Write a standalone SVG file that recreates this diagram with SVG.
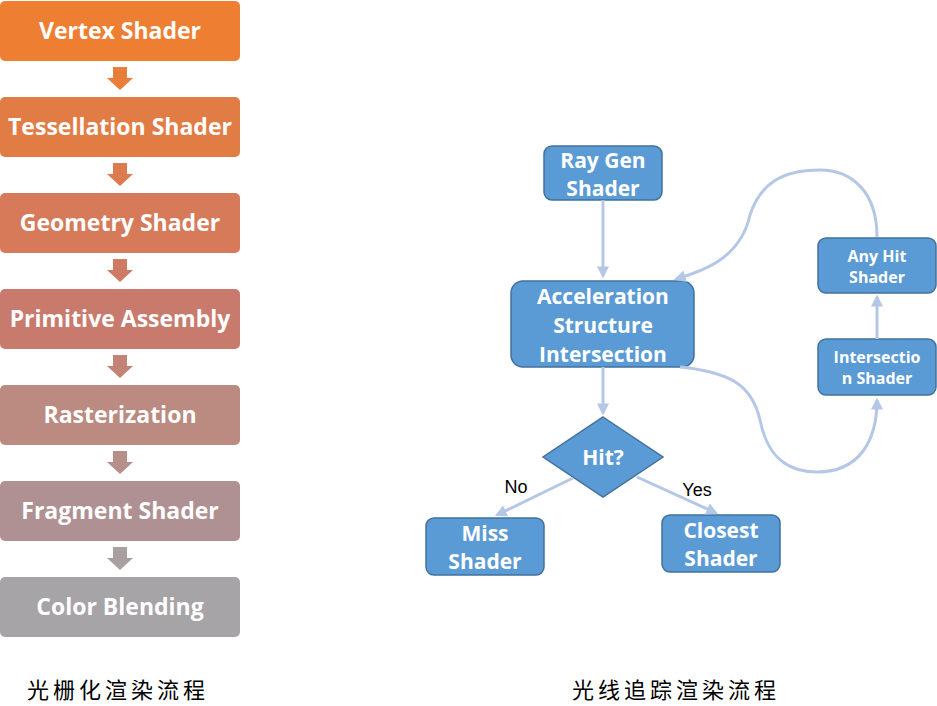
<svg xmlns="http://www.w3.org/2000/svg" width="937" height="706" viewBox="0 0 937 706">
<defs>
<style>
.lt{font-family:"Open Sans","Noto Sans","DejaVu Sans",sans-serif;font-weight:bold;font-size:23px;fill:#fff;text-anchor:middle;dominant-baseline:central}
.rt{font-family:"Open Sans","Noto Sans","DejaVu Sans",sans-serif;font-weight:bold;font-size:21px;fill:#fff;text-anchor:middle;dominant-baseline:central}
.st{font-family:"Open Sans","Noto Sans","DejaVu Sans",sans-serif;font-weight:bold;font-size:16px;fill:#fff;text-anchor:middle;dominant-baseline:central}
.lbl{font-family:"Liberation Sans","Noto Sans",sans-serif;font-size:18px;fill:#000;text-anchor:middle;dominant-baseline:central}
.cap{font-family:"Noto Sans CJK SC",sans-serif;font-size:22px;fill:#000;letter-spacing:4px;dominant-baseline:central}
.bn{fill:#5B9BD5;stroke:#41719C;stroke-width:1.5}
.cn{fill:none;stroke:#B4C7E7;stroke-width:3}
</style>
<marker id="ah" viewBox="0 0 10 10" refX="8" refY="5" markerWidth="4" markerHeight="4" orient="auto" markerUnits="strokeWidth">
<path d="M0,0 L10,5 L0,10 Z" fill="#B4C7E7"/>
</marker>
</defs>
<rect width="937" height="706" fill="#fff"/>

<g id="vertex"><rect x="0" y="1" width="240" height="60" rx="5" fill="#EE7E32"/><text class="lt" x="120" y="30">Vertex Shader</text></g>
<g id="tess"><rect x="0" y="97" width="240" height="60" rx="5" fill="#E27C45"/><text class="lt" x="120" y="126">Tessellation Shader</text></g>
<g id="geom"><rect x="0" y="193" width="240" height="60" rx="5" fill="#D67A5A"/><text class="lt" x="120" y="222">Geometry Shader</text></g>
<g id="prim"><rect x="0" y="289" width="240" height="60" rx="5" fill="#C87B6C"/><text class="lt" x="120" y="318">Primitive Assembly</text></g>
<g id="rast"><rect x="0" y="385" width="240" height="60" rx="5" fill="#BB8A80"/><text class="lt" x="120" y="414">Rasterization</text></g>
<g id="frag"><rect x="0" y="481" width="240" height="60" rx="5" fill="#AF9193"/><text class="lt" x="120" y="510">Fragment Shader</text></g>
<g id="blend"><rect x="0" y="577" width="240" height="60" rx="5" fill="#A6A4A7"/><text class="lt" x="120" y="606">Color Blending</text></g>

<g id="left-arrows">
<path d="M113,67 H127 V78 H133 L120,90 L107,78 H113 Z" fill="#E97D3A"/>
<path d="M113,163 H127 V174 H133 L120,186 L107,174 H113 Z" fill="#DC7B4F"/>
<path d="M113,259 H127 V270 H133 L120,282 L107,270 H113 Z" fill="#CF7A63"/>
<path d="M113,355 H127 V366 H133 L120,378 L107,366 H113 Z" fill="#C38377"/>
<path d="M113,451 H127 V462 H133 L120,474 L107,462 H113 Z" fill="#B68E8A"/>
<path d="M113,547 H127 V558 H133 L120,570 L107,558 H113 Z" fill="#A9A0A2"/>
</g>

<g id="raygen"><rect class="bn" x="544" y="146" width="118" height="54" rx="8"/><text class="rt" x="603" y="160">Ray Gen</text><text class="rt" x="603" y="188">Shader</text></g>
<g id="accel"><rect class="bn" x="511" y="281" width="183" height="86" rx="12"/><text class="rt" x="603" y="296">Acceleration</text><text class="rt" x="603" y="325">Structure</text><text class="rt" x="603" y="354">Intersection</text></g>
<g id="hit"><path class="bn" d="M603,417 L663,457 L603,497 L543,457 Z"/><text class="rt" x="603" y="457">Hit?</text></g>
<g id="miss"><rect class="bn" x="426" y="518" width="118" height="57" rx="8"/><text class="rt" x="485" y="533">Miss</text><text class="rt" x="485" y="561">Shader</text></g>
<g id="closest"><rect class="bn" x="662" y="515" width="118" height="57" rx="8"/><text class="rt" x="721" y="530">Closest</text><text class="rt" x="721" y="558">Shader</text></g>
<g id="anyhit"><rect class="bn" x="818" y="238" width="118" height="55" rx="8"/><text class="st" x="877" y="256">Any Hit</text><text class="st" x="877" y="277">Shader</text></g>
<g id="isect"><rect class="bn" x="818" y="339" width="118" height="56" rx="8"/><text class="st" x="877" y="357">Intersectio</text><text class="st" x="877" y="378">n Shader</text></g>

<g id="connectors">
<path class="cn" d="M603,200 V276" marker-end="url(#ah)"/>
<path class="cn" d="M603,367 V413" marker-end="url(#ah)"/>
<path class="cn" d="M573,478 L497,515" marker-end="url(#ah)"/>
<path class="cn" d="M637,477 L716,513" marker-end="url(#ah)"/>
<path class="cn" d="M877,339 V297" marker-end="url(#ah)"/>
<path class="cn" d="M680,367 C730,372 752,385 760,420 C768,460 790,472 817,472 C860,472 877,440 877,400" marker-end="url(#ah)"/>
<path class="cn" d="M877,237 C877,190 850,170 820,170 C780,170 760,185 750,215 C740,260 700,272 676,279" marker-end="url(#ah)"/>
</g>

<g id="labels">
<text class="lbl" x="516" y="487">No</text>
<text class="lbl" x="697" y="490">Yes</text>
<text class="cap" x="27" y="688">光栅化渲染流程</text>
<text class="cap" x="572" y="688">光线追踪渲染流程</text>
</g>
</svg>
